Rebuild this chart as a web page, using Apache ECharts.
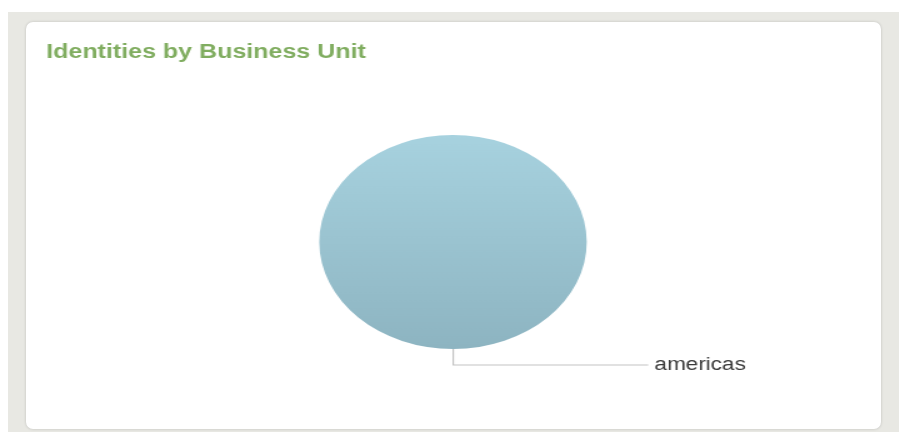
<!DOCTYPE html>
<html>
<head>
<meta charset="utf-8">
<script src="https://cdn.jsdelivr.net/npm/echarts@6/dist/echarts.min.js"></script>
<style>
  html, body { margin: 0; padding: 0; background: #ffffff; width: 899px; height: 432px; overflow: hidden; }
  #frame { position: absolute; left: 8px; top: 12px; width: 891px; height: 420px; background: #e8e8e3; }
  #card { position: absolute; left: 26px; top: 22px; width: 855px; height: 407px; background: #ffffff;
          border-radius: 7px; box-shadow: 0 0 3px rgba(0,0,0,0.18); }
  /* the drawing area is rendered narrow and stretched sideways */
  #chart { position: absolute; left: 0; top: 0; width: 719px; height: 432px;
           transform: scaleX(1.25); transform-origin: 0 0; }
</style>
</head>
<body>
<div id="frame"></div>
<div id="card"></div>
<div id="chart"></div>
<script>
// Identities grouped by business unit
const titleText = 'Identities by Business Unit';
const units = ['americas'];
const identityShare = [100];

const chart = echarts.init(document.getElementById('chart'), null, { renderer: 'canvas' });

chart.setOption({
  backgroundColor: 'transparent',
  animation: false,
  title: {
    text: titleText,
    left: 32,
    top: 37,
    textStyle: {
      fontFamily: 'Liberation Sans, Arial, sans-serif',
      fontSize: 20,
      fontWeight: 'bold',
      color: '#80ad60'
    }
  },
  series: [{
    type: 'pie',
    center: [362.4, 242],
    radius: [0, 107],
    // start just past the top so the single slice's label leads off to the right
    startAngle: 90.1,
    clockwise: true,
    avoidLabelOverlap: false,
    data: units.map((u, i) => ({ name: u, value: identityShare[i] })),
    itemStyle: {
      color: new echarts.graphic.LinearGradient(0, 0, 0, 1, [
        { offset: 0, color: '#a7d2df' },
        { offset: 1, color: '#8db4c1' }
      ])
    },
    label: {
      show: true,
      position: 'outside',
      formatter: '{b}',
      fontFamily: 'Liberation Sans, Arial, sans-serif',
      fontSize: 18,
      color: '#3a3a3a'
    },
    labelLine: {
      show: true,
      length: 16,
      length2: 156,
      lineStyle: { color: '#c4c4c4', width: 1.2 }
    },
    emphasis: { disabled: true }
  }]
});
</script>
</body>
</html>
